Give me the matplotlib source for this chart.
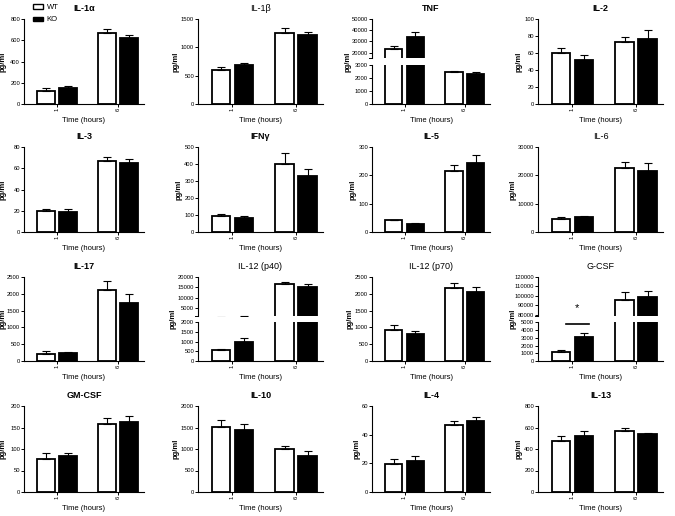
import matplotlib.pyplot as plt
from matplotlib.patches import Patch
import numpy as np

plt.rcParams['font.family'] = ['Liberation Sans', 'DejaVu Sans']

times = ['1', '6']
cytokines = ['IL-1α', 'IL-1β', 'TNF', 'IL-2',
             'IL-3', 'IFNγ', 'IL-5', 'IL-6',
             'IL-17', 'IL-12 (p40)', 'IL-12 (p70)', 'G-CSF',
             'GM-CSF', 'IL-10', 'IL-4', 'IL-13']
bold_title = [True, False, True, True,
              True, True, True, False,
              True, False, False, False,
              True, True, True, True]

# mean values at 1 h and 6 h
wt_mean = [[126, 668], [606, 1260], [23000, 2420], [60.5, 73.4],
           [19.7, 66.8], [92, 402], [40.7, 214], [4680, 22440],
           [218, 2113], [584, 16770], [937, 2177], [1140, 96100],
           [77.5, 159], [1513, 1004], [19.7, 46.6], [478, 564]]
wt_err = [[22, 34], [42, 78], [2500, 150], [5.9, 5.9],
          [1.6, 3.7], [16, 65], [3.3, 24], [720, 2160],
          [70, 258], [53, 970], [121, 152], [310, 7800],
          [13.5, 13], [168, 76], [3, 3], [40, 31]]
ko_mean = [[154, 620], [690, 1224], [34300, 2290], [51.6, 77],
           [18.8, 65.2], [84, 331], [28, 242], [5300, 21600],
           [228, 1736], [991, 15160], [796, 2066], [3070, 99300],
           [83.7, 163], [1452, 837], [21.5, 49.6], [518, 536]]
ko_err = [[19, 26], [42, 42], [4500, 180], [6.2, 9.7],
          [2.8, 3.8], [12, 40], [3, 31], [300, 2640],
          [40, 258], [177, 1610], [101, 142], [570, 6300],
          [7, 14], [130, 114], [3.5, 2.9], [52, 16]]

ymax = [800, 1500, None, 100, 80, 500, 300, 30000,
        2500, None, 2500, None, 200, 2000, 60, 800]
ystep = [200, 500, None, 20, 20, 100, 100, 10000,
         500, None, 500, None, 50, 500, 20, 200]

# broken y axes: (upper lim, upper ticks, lower lim, lower ticks)
broken = {
    2: ((15000, 50000), [20000, 30000, 40000, 50000], (0, 3000), [0, 1000, 2000, 3000]),
    9: ((1500, 20000), [5000, 10000, 15000, 20000], (0, 2000), [0, 500, 1000, 1500, 2000]),
    11: ((79000, 120000), [80000, 90000, 100000, 110000, 120000], (0, 5000), [0, 1000, 2000, 3000, 4000, 5000]),
}

W, H = 675, 516
fig = plt.figure(figsize=(W / 100, H / 100), dpi=100)

col_left = [24, 198, 372, 538]
col_right = [144, 323, 490, 663]
row_top = [19, 147, 277, 406]
row_bot = [104, 232, 361, 492]

x = np.arange(len(times))
bw = 0.29
off = 0.18
fs_tick = 4.2
lw_ax = 0.8


def rect(l, t, r, b):
    return [l / W, 1 - b / H, (r - l) / W, (b - t) / H]


def style(ax):
    for s in ['top', 'right']:
        ax.spines[s].set_visible(False)
    for s in ['left', 'bottom']:
        ax.spines[s].set_linewidth(lw_ax)
    ax.tick_params(length=2, width=0.7, labelsize=fs_tick, pad=0.8)
    ax.set_xlim(-0.54, 1.42)


def bars(ax, i):
    ax.bar(x - off, wt_mean[i], bw, yerr=[[0, 0], wt_err[i]], color='white',
           edgecolor='black', linewidth=1.3, capsize=3,
           error_kw=dict(elinewidth=0.8, capthick=0.8, ecolor='black'))
    ax.bar(x + off, ko_mean[i], bw, yerr=[[0, 0], ko_err[i]], color='black',
           edgecolor='black', linewidth=1.3, capsize=3,
           error_kw=dict(elinewidth=0.8, capthick=0.8, ecolor='black'))


def xaxis(ax):
    ax.set_xticks(x)
    ax.set_xticklabels(times, rotation=90)
    ax.set_xlabel('Time (hours)', fontsize=5.5, labelpad=4)


for i, name in enumerate(cytokines):
    r, c = divmod(i, 4)
    l, rr, t, b = col_left[c], col_right[c], row_top[r], row_bot[r]
    weight = 'bold' if bold_title[i] else 'normal'
    if i in broken:
        ulim, uticks, llim, lticks = broken[i]
        hgt = b - t
        up = fig.add_axes(rect(l, t, rr, t + 0.46 * hgt))
        lo = fig.add_axes(rect(l, b - 0.46 * hgt, rr, b))
        for ax in (up, lo):
            style(ax)
            bars(ax, i)
        up.set_ylim(*ulim)
        up.set_yticks(uticks)
        up.spines['bottom'].set_visible(False)
        up.set_xticks([])
        up.plot([-0.025, 0], [0, 0], transform=up.transAxes, clip_on=False,
                color='black', lw=0.7)
        lo.set_ylim(*llim)
        lo.set_yticks(lticks)
        xaxis(lo)
        up.set_title(name, fontsize=6.5, fontweight=weight, pad=6)
        lo.set_ylabel('pg/ml', fontsize=5.5, fontweight='bold')
        lo.yaxis.set_label_coords(-0.17, 1.08)
        if i == 11:
            lo.plot([x[0] - off * 0.6, x[0] + off * 1.4], [4850, 4850],
                    color='black', lw=1.2, clip_on=False)
            up.text(x[0] + off * 0.4, 87500, '*', ha='center', va='center',
                    fontsize=8)
    else:
        ax = fig.add_axes(rect(l, t, rr, b))
        style(ax)
        bars(ax, i)
        ax.set_ylim(0, ymax[i])
        ax.set_yticks(np.arange(0, ymax[i] + ystep[i] / 2, ystep[i]))
        xaxis(ax)
        ax.set_title(name, fontsize=6.5, fontweight=weight, pad=6)
        ax.set_ylabel('pg/ml', fontsize=5.5, fontweight='bold', labelpad=1)
        if c == 0:
            ax.yaxis.set_label_coords((7 - l) / (rr - l), 0.5)

handles = [Patch(facecolor='white', edgecolor='black', linewidth=1.0, label='WT'),
           Patch(facecolor='black', edgecolor='black', linewidth=1.0, label='KO')]
fig.legend(handles=handles, loc='upper left', bbox_to_anchor=(30 / W, 1 - 1 / H),
           frameon=False, fontsize=5.5, handlelength=1.3, handleheight=0.5,
           labelspacing=0.7, handletextpad=0.5, borderaxespad=0)

fig.savefig('out.png', dpi=100)
